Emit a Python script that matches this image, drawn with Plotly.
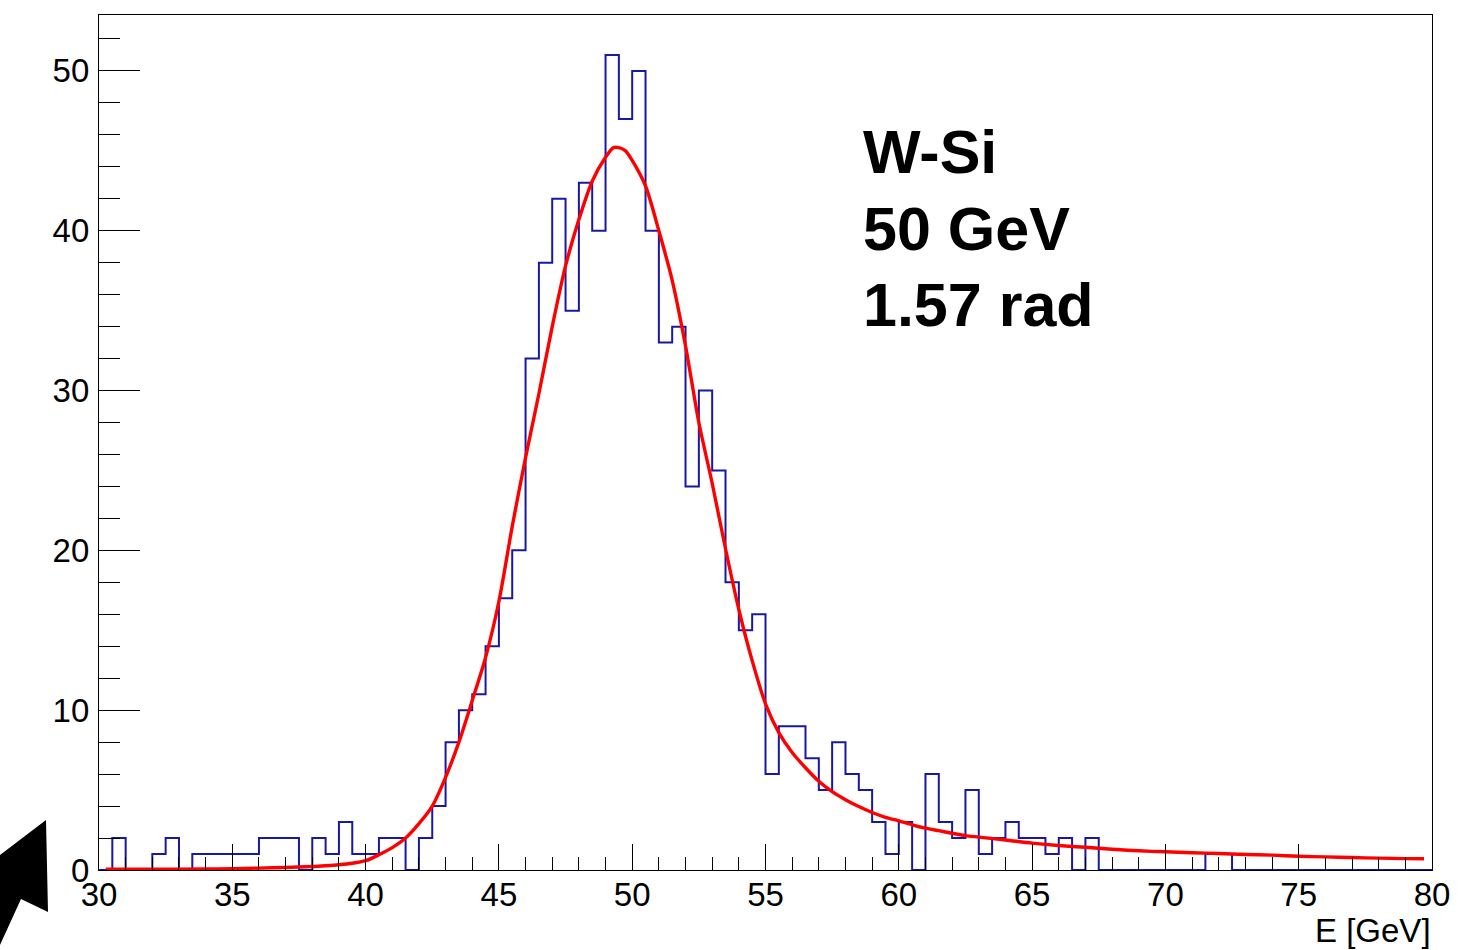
import plotly.graph_objects as go

# ---------------- data ----------------
bin_low_edge = 30.0
bin_width = 0.5
counts = [
    0, 2, 0, 0, 1, 2, 0, 1, 1, 1,      # 30.0 - 35.0
    1, 1, 2, 2, 2, 0, 2, 1, 3, 1,      # 35.0 - 40.0
    1, 2, 2, 0, 2, 4, 8, 10, 11, 14,   # 40.0 - 45.0
    17, 20, 32, 38, 42, 35, 43, 40, 51, 47,  # 45.0 - 50.0
    50, 40, 33, 34, 24, 30, 25, 18, 15, 16,  # 50.0 - 55.0
    6, 9, 9, 7, 5, 8, 6, 5, 3, 1,      # 55.0 - 60.0
    3, 0, 6, 3, 2, 5, 1, 2, 3, 2,      # 60.0 - 65.0
    2, 1, 2, 0, 2, 0, 0, 0, 0, 0,      # 65.0 - 70.0
    0, 0, 0, 1, 1, 0, 0, 0, 0, 0,      # 70.0 - 75.0
    0, 0, 0, 0, 0, 0, 0, 0, 0, 0,      # 75.0 - 80.0
]

fit_x = [30.25, 32, 34, 35, 36, 37, 38, 38.5, 39, 39.5, 40, 40.5, 41, 41.5,
         42, 42.5, 43, 43.5, 44, 44.5, 45, 45.5, 46, 46.5, 47, 47.5, 48, 48.5,
         49, 49.3, 49.5, 49.75, 50, 50.5, 51, 51.5, 52, 52.5, 53, 53.5, 54,
         54.5, 55, 55.5, 56, 56.5, 57, 57.5, 58, 58.5, 59, 59.5, 60, 60.5, 61,
         61.5, 62, 62.5, 63, 64, 65, 66, 67, 68, 69, 70, 71, 72, 73, 74, 75,
         76, 77, 78, 79, 79.7]
fit_y = [0.05, 0.05, 0.06, 0.08, 0.12, 0.16, 0.22, 0.27, 0.33, 0.42, 0.58, 0.95,
         1.4, 2.0, 2.9, 4.0, 5.8, 8.0, 10.6, 13.3, 16.8, 21.5, 25.8, 29.8, 34.0,
         37.8, 40.7, 43.1, 44.6, 45.2, 45.2, 45.0, 44.4, 42.8, 40.0, 36.9, 32.8,
         28.0, 24.2, 20.1, 16.3, 13.1, 10.4, 8.6, 7.35, 6.4, 5.55, 4.9, 4.4,
         3.97, 3.6, 3.3, 3.08, 2.83, 2.62, 2.46, 2.3, 2.15, 2.06, 1.88, 1.68,
         1.53, 1.42, 1.3, 1.2, 1.14, 1.08, 1.03, 0.97, 0.93, 0.86, 0.82, 0.78,
         0.74, 0.71, 0.7]

label_lines = ["W-Si", "50 GeV", "1.57 rad"]
x_title = "E [GeV]"

# ---------------- layout geometry ----------------
W, H = 1476, 950
L, R, T, B = 99, 1432, 15, 870   # plot area in pixels
FONT = "Liberation Sans, Arial, Helvetica, sans-serif"


def px2paper(px, py):
    return (px - L) / (R - L), (B - py) / (B - T)


edges = [bin_low_edge + i * bin_width for i in range(len(counts) + 1)]
hist_y = counts + [counts[-1]]

fig = go.Figure()
fig.add_trace(go.Scatter(
    x=edges, y=hist_y, mode="lines", line_shape="hv",
    line=dict(color="rgb(24,24,160)", width=2), hoverinfo="skip",
    showlegend=False))
fig.add_trace(go.Scatter(
    x=fit_x, y=fit_y, mode="lines", line_shape="spline",
    line=dict(color="rgb(255,0,0)", width=3.4, smoothing=0.8), hoverinfo="skip",
    showlegend=False))

fig.update_layout(
    width=W, height=H,
    margin=dict(l=L, r=W - R, t=T, b=H - B, pad=0),
    paper_bgcolor="white", plot_bgcolor="white",
    font=dict(family=FONT, color="black", size=33),
    showlegend=False,
)
fig.update_xaxes(
    range=[30, 80], tick0=30, dtick=5, ticks="inside", ticklen=26,
    tickwidth=1.2, tickcolor="black", showgrid=False, zeroline=False,
    showline=True, linecolor="black", linewidth=1.2, mirror=True,
    layer="above traces", ticklabelstandoff=-5,
    tickfont=dict(size=33, family=FONT),
    minor=dict(dtick=1, ticks="inside", ticklen=13, tickcolor="black",
               tickwidth=1.2, showgrid=False),
)
fig.update_yaxes(
    range=[0, 53.5], tick0=0, dtick=10, ticks="inside", ticklen=41,
    tickwidth=1.2, tickcolor="black", showgrid=False, zeroline=False,
    showline=True, linecolor="black", linewidth=1.2, mirror=True,
    layer="above traces", ticklabelstandoff=2,
    tickfont=dict(size=33, family=FONT),
    minor=dict(dtick=2, ticks="inside", ticklen=21, tickcolor="black",
               tickwidth=1.2, showgrid=False),
)

# big label text
for txt, py in zip(label_lines, [152, 229, 305]):
    xp, yp = px2paper(861, py)
    fig.add_annotation(x=xp, y=yp, xref="paper", yref="paper", text="<b>%s</b>" % txt,
                       showarrow=False, xanchor="left", yanchor="middle",
                       font=dict(size=61, family=FONT, color="black"))

# x axis title, right aligned
xp, yp = px2paper(R + 1, 930)
fig.add_annotation(x=xp, y=yp, xref="paper", yref="paper", text=x_title,
                   showarrow=False, xanchor="right", yanchor="middle",
                   font=dict(size=33, family=FONT, color="black"))

# black arrow decoration in the lower-left corner
arrow_px = [(46, 820), (48, 912), (21, 899), (0, 945), (0, 855)]
pts = [px2paper(x, y) for x, y in arrow_px]
path = "M " + " L ".join("%.5f %.5f" % p for p in pts) + " Z"
fig.add_shape(type="path", path=path, xref="paper", yref="paper",
              fillcolor="black", line=dict(color="black", width=0))

fig.write_html("out.html")
